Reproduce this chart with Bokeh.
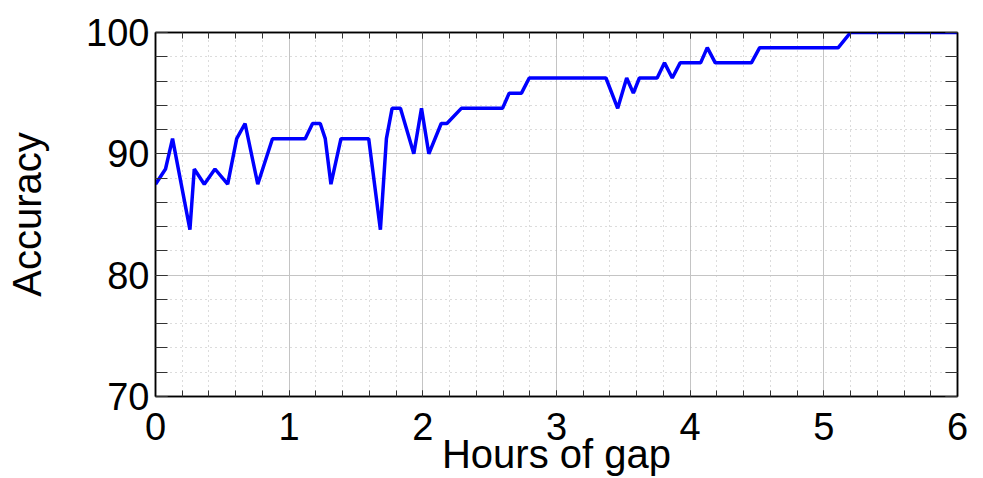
from bokeh.plotting import figure
from bokeh.models import LinearAxis, SingleIntervalTicker, Range1d, CustomJSTickFormatter
from bokeh.embed import file_html
from bokeh.resources import INLINE

hours = [0, 0.075, 0.1275, 0.2575, 0.29, 0.365, 0.445, 0.54, 0.6075, 0.67,
         0.765, 0.875, 1.12, 1.175, 1.2325, 1.27, 1.3125, 1.3875, 1.595, 1.6825,
         1.7275, 1.77, 1.8325, 1.9325, 1.99, 2.045, 2.1375, 2.18, 2.288, 2.596,
         2.646, 2.738, 2.796, 3.37, 3.458, 3.525, 3.575, 3.62, 3.753, 3.808,
         3.866, 3.925, 4.078, 4.128, 4.188, 4.458, 4.52, 5.108, 5.2, 6.0]
accuracy = [87.5, 88.75, 91.25, 83.75, 88.75, 87.5, 88.75, 87.5, 91.25, 92.5,
            87.5, 91.25, 91.25, 92.5, 92.5, 91.25, 87.5, 91.25, 91.25, 83.75,
            91.25, 93.75, 93.75, 90, 93.75, 90, 92.5, 92.5, 93.75, 93.75,
            95, 95, 96.25, 96.25, 93.75, 96.25, 95, 96.25, 96.25, 97.5,
            96.25, 97.5, 97.5, 98.75, 97.5, 97.5, 98.75, 98.75, 100, 100]

FONT = "Liberation Sans"

p = figure(width=983, height=478, output_backend="svg", toolbar_location=None,
           x_range=Range1d(0, 6), y_range=Range1d(70, 100),
           min_border_left=155, min_border_top=32, min_border_right=26, min_border_bottom=82,
           x_axis_label="Hours of gap", y_axis_label="Accuracy")
p.outline_line_color = "black"
p.outline_line_width = 1.5
p.background_fill_color = "white"
p.border_fill_color = "white"

xt = SingleIntervalTicker(interval=1, num_minor_ticks=5)
yt = SingleIntervalTicker(interval=10, num_minor_ticks=5)
p.xaxis.ticker = xt
p.yaxis.ticker = yt

for g, t in ((p.xgrid, xt), (p.ygrid, yt)):
    g.ticker = t
    g.grid_line_color = "#c4c4c4"
    g.grid_line_width = 1
    g.minor_grid_line_color = "#b8b8b8"
    g.minor_grid_line_dash = "1 4"
    g.minor_grid_line_width = 1

def style_axis(ax, tick_len):
    ax.axis_line_color = "black"
    ax.axis_line_width = 1.5
    ax.major_tick_in = tick_len
    ax.major_tick_out = 0
    ax.minor_tick_in = tick_len
    ax.minor_tick_out = 0
    ax.major_tick_line_color = "#333333"
    ax.minor_tick_line_color = "#333333"
    ax.major_label_text_font = FONT
    ax.major_label_text_font_size = "38px"
    ax.major_label_text_color = "black"
    ax.axis_label_text_font = FONT
    ax.axis_label_text_font_size = "40px"
    ax.axis_label_text_font_style = "normal"
    ax.axis_label_text_color = "black"

for ax in p.xaxis:
    style_axis(ax, 6)
    ax.major_label_standoff = 16
    ax.axis_label_standoff = -11
for ax in p.yaxis:
    style_axis(ax, 12)
    ax.major_label_standoff = 6
    ax.axis_label_standoff = 34

blank = CustomJSTickFormatter(code="return '';")
top = LinearAxis(ticker=xt, formatter=blank)
right = LinearAxis(ticker=yt, formatter=blank)
style_axis(top, 6)
style_axis(right, 12)
top.major_label_standoff = 0
right.major_label_standoff = 0
p.add_layout(top, "above")
p.add_layout(right, "right")

p.line(hours, accuracy, line_color="#0000ff", line_width=3.5)

open("out.html", "w").write(file_html(p, INLINE))
